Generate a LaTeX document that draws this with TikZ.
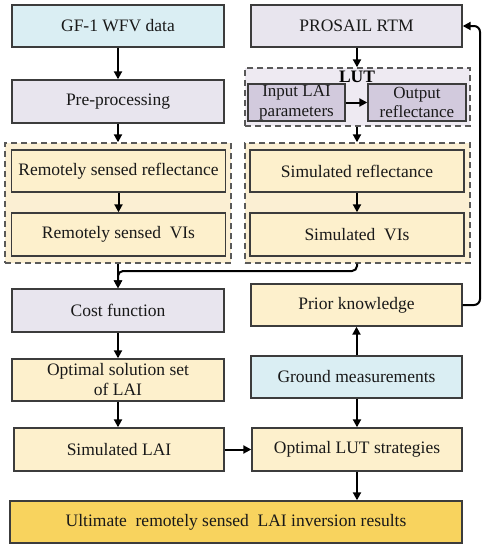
\documentclass[tikz,border=0pt]{standalone}
\usepackage{fontspec}
\setmainfont{Liberation Serif}
\usetikzlibrary{arrows.meta}
\definecolor{blueF}{HTML}{DAEEF3}
\definecolor{lavF}{HTML}{E8E5EE}
\definecolor{creamF}{HTML}{FDF0CC}
\definecolor{groupF}{HTML}{FBEFD3}
\definecolor{lutF}{HTML}{EEEAF2}
\definecolor{inpF}{HTML}{D2CADD}
\definecolor{goldF}{HTML}{F8D35E}
\definecolor{bordC}{HTML}{3C3C3C}
\begin{document}
\begin{tikzpicture}[x=1pt,y=-1pt,
  box/.style={draw=bordC, line width=1.4pt, rectangle, inner sep=1pt, align=center,
    font=\fontsize{17.5}{20}\selectfont, text=black!90},
  grp/.style={draw=bordC!85, line width=1.4pt, dashed, dash pattern=on 6pt off 4pt, rectangle},
  arr/.style={-{Triangle[length=8pt,width=8pt]}, line width=2pt, black}]
\useasboundingbox (0,0) rectangle (486,550);
% groups
\node[grp, fill=groupF, minimum width=226pt, minimum height=120pt] (lgroup) at (118,203) {};
\node[grp, fill=groupF, minimum width=225pt, minimum height=120pt] (rgroup) at (357.5,203) {};
\node[grp, fill=lutF, minimum width=225pt, minimum height=58pt] (lutg) at (357.5,97) {};
\node[font=\fontsize{17.5}{20}\selectfont\bfseries] (lutl) at (357,77) {LUT};
% left column
\node[box, fill=blueF, minimum width=212pt, minimum height=42pt] (gf) at (118,26) {GF-1 WFV data};
\node[box, fill=lavF, minimum width=212pt, minimum height=43pt] (pre) at (118,101.5) {Pre-processing};
\node[box, fill=creamF, minimum width=214pt, minimum height=42pt] (rsr) at (118.5,171) {Remotely sensed reflectance};
\node[box, fill=creamF, minimum width=214pt, minimum height=43pt] (rsv) at (118.5,234.5) {Remotely sensed\ \ VIs};
\node[box, fill=lavF, minimum width=212pt, minimum height=43pt] (cost) at (118,310.5) {Cost function};
\node[box, fill=creamF, minimum width=212pt, minimum height=42pt] (opt) at (118,380) {Optimal solution set\\of LAI};
\node[box, fill=creamF, minimum width=210pt, minimum height=43pt] (slai) at (119,449.5) {Simulated LAI};
\node[box, fill=goldF, minimum width=452pt, minimum height=42pt] (ult) at (236,522) {Ultimate\ \ remotely sensed\ \ LAI inversion results};
% right column
\node[box, fill=lavF, minimum width=211pt, minimum height=42pt] (pro) at (356.5,26) {PROSAIL RTM};
\node[box, fill=inpF, minimum width=97pt, minimum height=37pt, font=\fontsize{17}{19.5}\selectfont] (inp) at (296.5,102.5) {Input LAI\\parameters};
\node[box, fill=inpF, minimum width=98pt, minimum height=37pt, font=\fontsize{17}{19.5}\selectfont] (outr) at (417,102.5) {Output\\reflectance};
\node[box, fill=creamF, minimum width=214pt, minimum height=42pt] (sref) at (357,171) {Simulated reflectance};
\node[box, fill=creamF, minimum width=214pt, minimum height=43pt] (svi) at (357,234.5) {Simulated\ \ VIs};
\node[box, fill=creamF, minimum width=211pt, minimum height=42pt] (prior) at (356.5,305) {Prior knowledge};
\node[box, fill=blueF, minimum width=211pt, minimum height=42pt] (ground) at (356.5,377) {Ground measurements};
\node[box, fill=creamF, minimum width=210pt, minimum height=43pt] (olut) at (357,449.5) {Optimal LUT strategies};
% coordinates
\coordinate (j1) at (357,271);
\coordinate (j2) at (118,271);
\coordinate (f1) at (480,305);
\coordinate (f2) at (480,26);
% arrows
\draw[arr] (gf.south) -- (pre.north);
\draw[arr] (pre.south) -- (lgroup.north);
\draw[arr] (rsr.south) -- (rsv.north);
\draw[arr] (lgroup.south) -- (cost.north);
\draw[arr, rounded corners=5pt] (rgroup.south -| j1) -- (j1) -- (j2) -- (cost.north);
\draw[arr] (pro.south -| lutl) -- (lutg.north -| lutl);
\draw[arr] (inp.east) -- (outr.west);
\draw[arr] (lutg.south -| j1) -- (rgroup.north -| j1);
\draw[arr] (sref.south) -- (svi.north);
\draw[arr] (cost.south) -- (opt.north);
\draw[arr] (opt.south) -- (opt.south |- slai.north);
\draw[arr] (slai.east) -- (olut.west);
\draw[arr] (ground.north) -- (prior.south);
\draw[arr] (ground.south -| olut) -- (olut.north);
\draw[arr] (olut.south) -- (olut.south |- ult.north);
\draw[arr, rounded corners=6pt] (prior.east) -- (f1) -- (f2) -- (pro.east);
\end{tikzpicture}
\end{document}
